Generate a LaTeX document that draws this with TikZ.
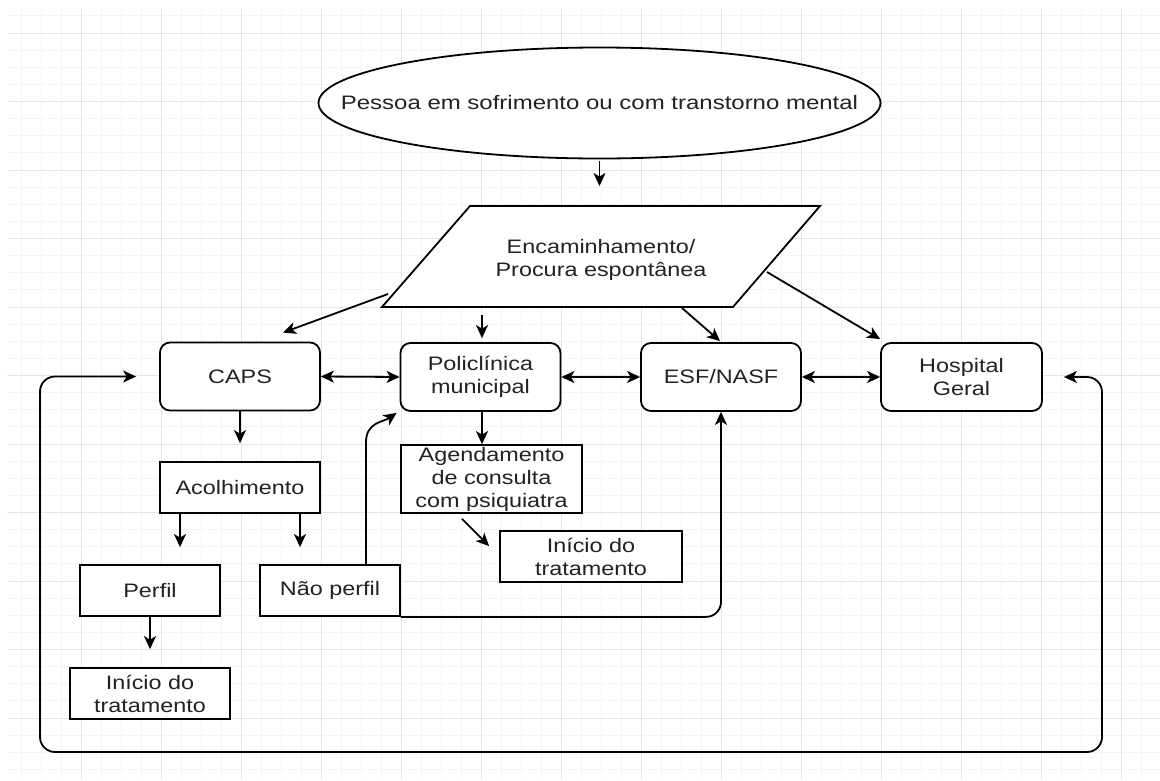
\documentclass[tikz,border=0pt]{standalone}
\usepackage{fontspec}
\setmainfont{Liberation Sans}
\usetikzlibrary{shapes.geometric,arrows.meta}
\newcommand{\hs}[1]{\scalebox{1.2}[1]{#1}}
\definecolor{gmajor}{HTML}{E4E4E4}
\definecolor{gminor}{HTML}{F5F5F5}
\definecolor{txt}{HTML}{222222}
\begin{document}
\begin{tikzpicture}[x=1pt,y=-1pt,
  every node/.style={font=\fontsize{19.5}{23}\selectfont, text=txt, inner sep=0pt, align=center},
  rbox/.style={draw, line width=1.8pt, fill=white, rounded corners=10pt, minimum width=160pt, minimum height=68pt},
  sbox/.style={draw, line width=1.8pt, fill=white, minimum height=51pt},
  arr/.style={line width=1.8pt, -{Stealth[length=13pt,width=12pt,inset=3.5pt]}},
  darr/.style={line width=1.8pt, {Stealth[length=13pt,width=12pt,inset=3.5pt]}-{Stealth[length=13pt,width=12pt,inset=3.5pt]}},
]
\useasboundingbox (0,0) rectangle (1160,780);
\fill[white] (0,0) rectangle (1160,780);
% grid
\begin{scope}
\clip (7,7) rectangle (1160,780);
\foreach \x in {21,41,...,1161} \draw[gminor, line width=0.8pt] (\x,7) -- (\x,780);
\foreach \i in {0,...,45} \draw[gminor, line width=0.8pt] (7,15.875+17.125*\i) -- (1160,15.875+17.125*\i);
\foreach \x in {81,161,...,1121} \draw[gmajor, line width=1pt] (\x,7) -- (\x,780);
\foreach \i in {0,...,10} \draw[gmajor, line width=1pt] (7,33+68.5*\i) -- (1160,33+68.5*\i);
\end{scope}

% ellipse
\draw[line width=1.8pt, fill=white] (599.5,103) ellipse [x radius=281pt, y radius=55.5pt];
\node (ell) at (599.5,103) {\scalebox{1.23}[1]{Pessoa em sofrimento ou com transtorno mental}};
\coordinate (ellb) at (599.5,161);
% parallelogram
\draw[line width=1.8pt, fill=white] (470,206) coordinate (ptl) -- (820,206) coordinate (ptr) -- (733,307) coordinate (pbr) -- (382,307) coordinate (pbl) -- cycle;
\node (par) at (601,260) {\hs{Encaminhamento/}\\\hs{Procura espontânea}};
\coordinate (pL) at (388,294);
\coordinate (pB1) at (482,315);
\coordinate (pB2) at (682,308);
\coordinate (pR) at (767,272);

\node[rbox] (caps) at (240,376.5) {\hs{CAPS}};
\node[rbox] (poli) at (480.5,377) {\hs{Policlínica}\\\hs{municipal}};
\node[rbox] (esf) at (721,377) {\hs{ESF/NASF}};
\node[rbox, minimum width=161pt] (hosp) at (961.5,377) {\hs{Hospital}\\\hs{Geral}};

\node[sbox, minimum width=160pt] (acol) at (240,487.5) {\hs{Acolhimento}};
\node[sbox, minimum width=140pt] (perfil) at (150,590.5) {\hs{Perfil}};
\node[sbox, minimum width=140pt] (naop) at (330,590.5) {\hs{Não perfil}};
\node[sbox, minimum width=160pt] (ini1) at (150,693.5) {\hs{Início do}\\\hs{tratamento}};
\node[sbox, minimum width=181pt, minimum height=68pt] (agend) at (491.5,479) {\hs{Agendamento}\\\hs{de consulta}\\\hs{com psiquiatra}};
\node[sbox, minimum width=182pt] (ini2) at (591,556.5) {\hs{Início do}\\\hs{tratamento}};

% connectors
\draw[arr, shorten >=20pt] (ellb) -- (ellb |- ptl);
\draw[arr] (pL) -- ([xshift=43pt,yshift=9pt]caps.north);
\draw[arr] (pB1) -- ([xshift=1.5pt,yshift=4pt]poli.north);
\draw[arr] (pB2) -- ([xshift=-1pt,yshift=1pt]esf.north);
\draw[arr] (pR) -- ([yshift=3pt]hosp.north west);

\draw[darr] (caps.east) -- (poli.west);
\draw[darr] (poli.east) -- (esf.west);
\draw[darr] (esf.east) -- (hosp.west);

\draw[arr] (caps.south) -- ([yshift=18pt]acol.north);
\draw[arr] ([xshift=-60pt]acol.south) -- ([xshift=30pt,yshift=17pt]perfil.north);
\draw[arr] ([xshift=60pt]acol.south) -- ([xshift=-30pt,yshift=17pt]naop.north);
\draw[arr] (perfil.south) -- ([yshift=18pt]ini1.north);
\draw[arr] ([xshift=1.5pt]poli.south) -- ([xshift=-9.5pt]agend.north);
\draw[arr] ([xshift=-29.5pt,yshift=-5pt]agend.south) -- ([xshift=-10pt,yshift=-16pt]ini2.north west);

\draw[arr] ([xshift=36pt]naop.north) -- ++(0,-122) .. controls ++(0,-20) and ([xshift=-16pt,yshift=-10pt]poli.south west) .. ([xshift=-3pt,yshift=-1pt]poli.south west);
\draw[arr, rounded corners=15pt] (naop.south east) -| (esf.south);

\coordinate (lr) at (1102,752);
\coordinate (ll) at (40,752);
\draw[darr, rounded corners=15pt] ([xshift=21pt]hosp.east) -| (lr) -- (ll) |- ([xshift=-23pt]caps.west);
\end{tikzpicture}
\end{document}
